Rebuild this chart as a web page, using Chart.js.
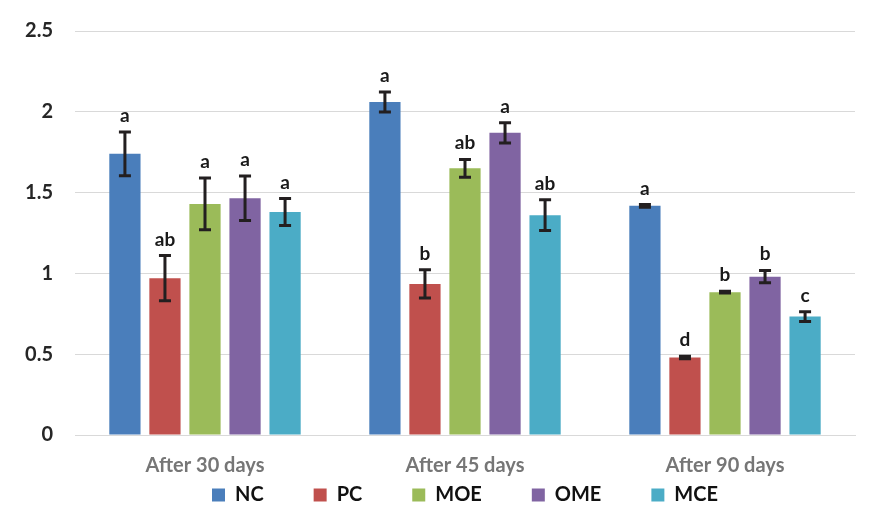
<!DOCTYPE html>
<html><head><meta charset="utf-8">
<script src="https://cdn.jsdelivr.net/npm/chart.js@4"></script>
<style>html,body{margin:0;padding:0;background:#fff}#wrap{width:886px;height:531px}</style>
</head><body><div id="wrap"><canvas id="c" width="886" height="531"></canvas></div>
<script>
const categories = ["After 30 days", "After 45 days", "After 90 days"];
const seriesNames = ["NC", "PC", "MOE", "OME", "MCE"];
const colors = ["#4a7ebb", "#c0504d", "#9bbb59", "#8064a2", "#4bacc6"];
const NC  = [1.74, 2.06, 1.418];
const PC  = [0.97, 0.935, 0.48];
const MOE = [1.43, 1.65, 0.884];
const OME = [1.465, 1.87, 0.98];
const MCE = [1.38, 1.36, 0.733];
const NC_err  = [0.135, 0.062, 0.008];
const PC_err  = [0.14, 0.088, 0.008];
const MOE_err = [0.16, 0.055, 0.005];
const OME_err = [0.137, 0.063, 0.038];
const MCE_err = [0.083, 0.095, 0.03];
const NC_lab  = ["a", "a", "a"];
const PC_lab  = ["ab", "b", "d"];
const MOE_lab = ["a", "ab", "b"];
const OME_lab = ["a", "a", "b"];
const MCE_lab = ["a", "ab", "c"];
const yTicks = [0, 0.5, 1, 1.5, 2, 2.5];

const values = [NC, PC, MOE, OME, MCE];
const errors = [NC_err, PC_err, MOE_err, OME_err, MCE_err];
const letters = [NC_lab, PC_lab, MOE_lab, OME_lab, MCE_lab];

const FONT = "Lato, 'Open Sans', sans-serif";
const LEGEND_PAD = 50;
const LEGEND_FONT = 20;
const LEGEND_CENTER_Y = 495;

const errPlugin = {
  id: 'errbars',
  afterLayout(chart) {
    const L = chart.legend;
    if (!L) return;
    const itemH = Math.max(LEGEND_FONT, 13);
    const cur = L.top + LEGEND_PAD + itemH / 2;
    const dy = LEGEND_CENTER_Y - cur;
    L.top += dy; L.bottom += dy;
  },
  afterDatasetsDraw(chart) {
    const ctx = chart.ctx;
    const ys = chart.scales.y;
    chart.data.datasets.forEach((ds, di) => {
      const meta = chart.getDatasetMeta(di);
      meta.data.forEach((bar, i) => {
        const v = ds.data[i], e = errors[di][i];
        const x = bar.x;
        const yt = ys.getPixelForValue(v + e);
        const yb = ys.getPixelForValue(v - e);
        ctx.save();
        ctx.strokeStyle = '#231f20';
        ctx.lineWidth = 3;
        ctx.lineCap = 'butt';
        ctx.beginPath();
        ctx.moveTo(x, yt); ctx.lineTo(x, yb);
        ctx.moveTo(x - 6, yt); ctx.lineTo(x + 6, yt);
        ctx.moveTo(x - 6, yb); ctx.lineTo(x + 6, yb);
        ctx.stroke();
        ctx.fillStyle = '#1a1a1a';
        ctx.font = "bold 19px " + FONT;
        ctx.textAlign = 'center';
        ctx.textBaseline = 'alphabetic';
        ctx.fillText(letters[di][i], x, yt - 10);
        ctx.restore();
      });
    });
  }
};

new Chart(document.getElementById('c'), {
  type: 'bar',
  data: {
    labels: categories,
    datasets: seriesNames.map((n, k) => ({
      label: n,
      data: values[k],
      backgroundColor: colors[k],
      borderWidth: 0,
      categoryPercentage: 0.77,
      barPercentage: 0.78
    }))
  },
  options: {
    responsive: false,
    animation: false,
    devicePixelRatio: 1,
    layout: { padding: { top: 16, right: 31, left: 0, bottom: -46 } },
    plugins: {
      tooltip: { enabled: false },
      legend: {
        position: 'bottom',
        fullSize: false,
        labels: {
          boxWidth: 13, boxHeight: 13, padding: LEGEND_PAD,
          color: '#111',
          font: { family: FONT, size: LEGEND_FONT, weight: 'bold' }
        }
      }
    },
    scales: {
      x: {
        grid: { display: false, drawTicks: false },
        border: { color: '#d9d9d9', width: 1 },
        ticks: { color: '#767676', padding: 19, font: { family: FONT, size: 20, weight: 'bold' } }
      },
      y: {
        min: 0, max: 2.5,
        afterBuildTicks(axis) { axis.ticks = yTicks.map(v => ({ value: v })); },
        afterFit(scale) { scale.width = 75; },
        grid: { color: '#d9d9d9', lineWidth: 1, drawTicks: false },
        border: { display: false },
        ticks: { color: '#262626', padding: 22, font: { family: FONT, size: 20, weight: 'bold', lineHeight: 0.9 },
          callback: v => String(v) }
      }
    }
  },
  plugins: [errPlugin]
});
</script>
</body></html>
